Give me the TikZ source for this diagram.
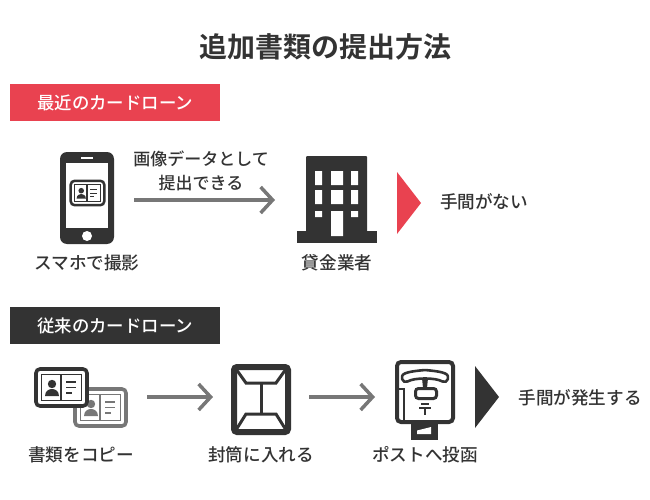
\documentclass[tikz,border=0pt]{standalone}
\usepackage{fontspec}
\setmainfont{Noto Sans CJK JP Medium}
\newfontfamily\negrita{Noto Sans CJK JP Bold}
\usetikzlibrary{arrows.meta}
\definecolor{oscuro}{HTML}{333333}
\definecolor{gris}{HTML}{777777}
\definecolor{rojo}{HTML}{E94250}
\tikzset{
  titulo/.style={text=oscuro,font=\fontsize{28}{32}\selectfont\negrita},
  etiqueta/.style={text=oscuro,font=\fontsize{17.6}{24}\selectfont,align=center},
  banda/.style={text=white,font=\fontsize{17.4}{24}\selectfont,anchor=west,inner sep=0pt},
  flecha/.style={gris,line width=3.5pt,-{Straight Barb[length=12pt,width=26pt,line width=3.5pt]}},
  pics/tarjeta/.style 2 args={code={
    \draw[#1,fill=white,line width=#2*3.6pt,rounded corners=4pt] (-25.5,-18.5) rectangle (25.5,18.5);
    \draw[#1,line width=#2*1.7pt] (-20,-13) rectangle (20,13) (-0.8,-13) -- (-0.8,13);
    \fill[#1] (-9.5,-3.5) circle (4.2);
    \fill[#1] (-16.5,8.5) .. controls (-16.5,3) and (-12,1.5) .. (-9.5,1.5) .. controls (-7,1.5) and (-2.5,3) .. (-2.5,8.5) -- cycle;
    \draw[#1,line width=#2*1.4pt] (4.5,-5.5) -- (14.5,-5.5) (4.5,0) -- (14.5,0) (4.5,5.5) -- (10.5,5.5);
  }}
}
\begin{document}
\begin{tikzpicture}[x=1pt,y=-1pt]
    \useasboundingbox (0,0) rectangle (650,500);

    % Titulo
    \node[titulo] (titulo) at (325.5,47) {追加書類の提出方法};

    % Bandas
    \fill[rojo] (10,84) rectangle (220,121);
    \node[banda] (reciente) at (37,102.5) {最近のカードローン};
    \fill[oscuro] (10,307) rectangle (220,344);
    \node[banda] (anterior) at (37,325.5) {従来のカードローン};

    % Telefono
    \fill[oscuro,rounded corners=7pt] (60,152) rectangle (114,244);
    \fill[white] (66,163) rectangle (108,228);
    \draw[white,line width=1.2pt] (81,158) -- (93,158);
    \fill[white] (87,236) circle (5);
    \pic[scale=0.66] at (87.5,193) {tarjeta={oscuro}{0.7}};
    \node[etiqueta] (movil) at (87,263) {スマホで撮影};

    % Texto y flecha
    \node[etiqueta,font=\fontsize{17}{24}\selectfont] (envio) at (201,171) {画像データとして\\提出できる};
    \coordinate (a1) at (134,200);
    \coordinate (a2) at (275,200);
    \draw[flecha] (a1) -- (a2);

    % Edificio
    \fill[oscuro,rounded corners=1pt] (306,156) rectangle (367,235);
    \fill[oscuro] (297,231) rectangle (377,243);
    \fill[white] (315,171) rectangle (322,185) (331,171) rectangle (343,185) (351,171) rectangle (358,185);
    \fill[white] (315,190) rectangle (322,204) (331,190) rectangle (343,204) (351,190) rectangle (358,204);
    \fill[white] (315,211) rectangle (322,217) (331,211) rectangle (343,236) (351,211) rectangle (358,217);
    \node[etiqueta] (banco) at (337,263) {貸金業者};

    % Resultado
    \fill[rojo] (397,172) -- (421,203) -- (397,234) -- cycle;
    \node[etiqueta] (rapido) at (484,202) {手間がない};

    % Tarjetas
    \pic at (100.5,407.5) {tarjeta={gris}{1}};
    \pic at (61.5,387.5) {tarjeta={oscuro}{1}};
    \node[etiqueta] (copia) at (81,455) {書類をコピー};

    \coordinate (b1) at (147,397);
    \coordinate (b2) at (213,397);
    \draw[flecha] (b1) -- (b2);

    % Sobre
    \draw[oscuro,line width=6pt,rounded corners=3pt] (234,367) rectangle (288,432);
    \draw[oscuro,line width=3pt] (236,369) -- (246,383) -- (276,383) -- (286,369);
    \draw[oscuro,line width=3pt] (236,430) -- (246,414) -- (276,414) -- (286,430);
    \draw[oscuro,line width=3pt] (261,383) -- (261,414);
    \node[etiqueta] (sobre) at (261,455) {封筒に入れる};

    \coordinate (c1) at (309,397);
    \coordinate (c2) at (375,397);
    \draw[flecha] (c1) -- (c2);

    % Buzon
    \fill[oscuro] (411,422) rectangle (438,440);
    \fill[white] (417,430.5) -- (431,427) -- (431,434) -- (417,434) -- cycle;
    \draw[oscuro,fill=white,line width=4pt,rounded corners=4pt] (397,362) rectangle (453,422);
    \draw[oscuro,line width=2.6pt,line join=round,rounded corners=2pt] (402.5,381) .. controls (401,374) and (404,372) .. (425,370) .. controls (446,372) and (449,374) .. (447.5,381) -- (444,382.5) .. controls (436,377.5) and (414,377.5) .. (406,382.5) -- cycle;
    \fill[oscuro] (422,378) -- (428,378) -- (427,388) -- (423,388) -- cycle;
    \draw[oscuro,line width=3pt,rounded corners=3pt] (415.5,388.5) rectangle (436.5,398.5);
    \draw[oscuro,line width=2pt] (398,389) -- (403.5,389) -- (403.5,421);
    \draw[oscuro,line width=1.8pt] (421,404) -- (429,404) (419,408) -- (431,408) (425,408) -- (425,415);
    \node[etiqueta] (buzon) at (425,455) {ポストへ投函};

    % Resultado
    \fill[oscuro] (475,366) -- (499,397) -- (475,428) -- cycle;
    \node[etiqueta] (lento) at (580,398) {手間が発生する};
\end{tikzpicture}
\end{document}
